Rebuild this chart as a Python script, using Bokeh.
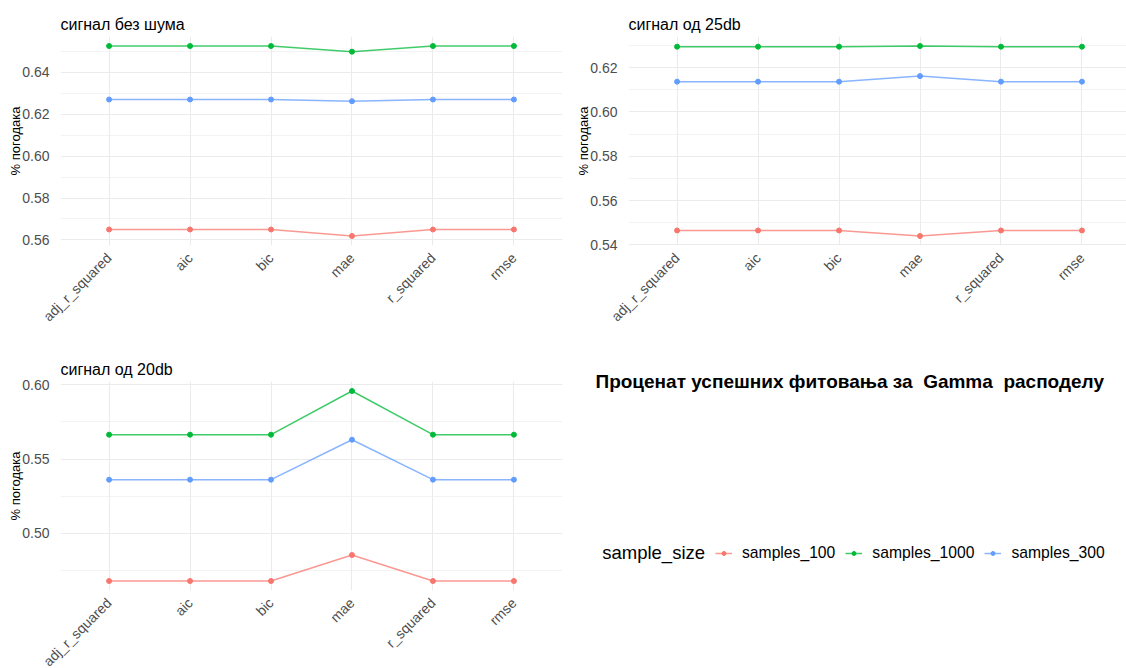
import math
from bokeh.plotting import figure
from bokeh.models import Range1d, FixedTicker, NumeralTickFormatter, Label, Legend, LegendItem
from bokeh.layouts import row, column
from bokeh.embed import file_html
from bokeh.resources import INLINE

# ---------------- data ----------------
categories = ["adj_r_squared", "aic", "bic", "mae", "r_squared", "rmse"]
series_names = ["samples_100", "samples_1000", "samples_300"]
colors = ["#F8766D", "#00BA38", "#619CFF"]

titles = ["сигнал без шума", "сигнал од 25db", "сигнал од 20db"]

clean_100 = [0.5650, 0.5650, 0.5650, 0.5619, 0.5650, 0.5650]
clean_1000 = [0.6524, 0.6524, 0.6524, 0.6497, 0.6524, 0.6524]
clean_300 = [0.6269, 0.6269, 0.6269, 0.6261, 0.6269, 0.6269]

db25_100 = [0.5465, 0.5465, 0.5465, 0.5440, 0.5465, 0.5465]
db25_1000 = [0.6295, 0.6295, 0.6295, 0.6298, 0.6295, 0.6295]
db25_300 = [0.6137, 0.6137, 0.6137, 0.6162, 0.6137, 0.6137]

db20_100 = [0.4679, 0.4679, 0.4679, 0.4854, 0.4679, 0.4679]
db20_1000 = [0.5664, 0.5664, 0.5664, 0.5958, 0.5664, 0.5664]
db20_300 = [0.5361, 0.5361, 0.5361, 0.5630, 0.5361, 0.5361]

ticks_clean = [0.56, 0.58, 0.60, 0.62, 0.64]
minor_clean = [0.57, 0.59, 0.61, 0.63, 0.65]
ticks_25 = [0.54, 0.56, 0.58, 0.60, 0.62]
minor_25 = [0.55, 0.57, 0.59, 0.61, 0.63]
ticks_20 = [0.50, 0.55, 0.60]
minor_20 = [0.475, 0.525, 0.575]

y_title = "% погодака"
# the original has double spaces around "Gamma" (non-breaking so SVG keeps them)
main_title = "Проценат успешних фитовања за \u00a0Gamma \u00a0расподелу"
legend_title = "sample_size"

FONT = "Liberation Sans"
GRID = "#EBEBEB"


def make_panel(title, series, major, minor, width, height, mbl, mbr, mbt, mbb, x_end):
    allv = [v for s in series for v in s]
    lo, hi = min(allv), max(allv)
    pad = 0.05 * (hi - lo)
    xs = list(range(1, len(categories) + 1))
    p = figure(width=width, height=height, output_backend="svg", toolbar_location=None,
               x_range=Range1d(0.4, x_end), y_range=Range1d(lo - pad, hi + pad),
               min_border_left=mbl, min_border_right=mbr, min_border_top=mbt,
               min_border_bottom=mbb, outline_line_color=None,
               background_fill_color="white", border_fill_color="white")
    p.title.text = title
    p.title.text_font = FONT
    p.title.text_font_size = "16px"
    p.title.text_font_style = "normal"
    p.title.text_color = "black"
    p.title.align = "left"
    p.title.standoff = 8

    for vals, c in zip(series, colors):
        p.line(xs, vals, line_color=c, line_width=1.5, line_alpha=0.75)
        p.scatter(xs, vals, size=5, fill_color=c, line_color=c)

    p.xaxis.ticker = FixedTicker(ticks=xs)
    p.xaxis.major_label_overrides = {i + 1: c for i, c in enumerate(categories)}
    p.xaxis.major_label_orientation = math.pi / 4
    p.yaxis.ticker = FixedTicker(ticks=major, minor_ticks=minor)
    p.yaxis.formatter = NumeralTickFormatter(format="0.00")
    p.yaxis.axis_label = y_title
    p.yaxis.axis_label_text_font = FONT
    p.yaxis.axis_label_text_font_size = "13px"
    p.yaxis.axis_label_text_font_style = "normal"
    p.yaxis.axis_label_text_color = "black"
    p.yaxis.axis_label_standoff = -4
    for ax in (p.xaxis, p.yaxis):
        ax.axis_line_color = None
        ax.major_tick_line_color = None
        ax.minor_tick_line_color = None
        ax.major_tick_out = 0
        ax.major_label_text_font = FONT
        ax.major_label_text_font_size = "14px"
        ax.major_label_text_color = "#4D4D4D"
    p.xaxis.major_label_standoff = 10
    p.yaxis.major_label_standoff = 7

    p.xgrid.ticker = FixedTicker(ticks=xs)
    p.ygrid.ticker = FixedTicker(ticks=major, minor_ticks=minor)
    p.xgrid.grid_line_color = GRID
    p.ygrid.grid_line_color = GRID
    p.xgrid.grid_line_width = 1.1
    p.ygrid.grid_line_width = 1.1
    p.ygrid.minor_grid_line_color = GRID
    p.ygrid.minor_grid_line_width = 0.6
    return p


p1 = make_panel(titles[0], [clean_100, clean_1000, clean_300], ticks_clean, minor_clean,
                565, 340, 60, 3, 36, 95, 6.6)
p2 = make_panel(titles[1], [db25_100, db25_1000, db25_300], ticks_25, minor_25,
                561, 340, 63, 0, 36, 95, 6.55)
p3 = make_panel(titles[2], [db20_100, db20_1000, db20_300], ticks_20, minor_20,
                565, 345, 60, 3, 41, 95, 6.6)

# legend / title panel; its frame is aligned with the bottom-left panel's frame
p4 = figure(width=561, height=345, output_backend="svg", toolbar_location=None,
            x_range=Range1d(0, 1), y_range=Range1d(0, 1),
            min_border_left=0, min_border_right=0, min_border_top=41, min_border_bottom=95,
            x_axis_type=None, y_axis_type=None, outline_line_color=None,
            background_fill_color="white", border_fill_color="white")
p4.title.text = main_title
p4.title.text_font = FONT
p4.title.text_font_size = "19px"
p4.title.text_font_style = "bold"
p4.title.text_color = "black"
p4.title.align = "left"
p4.title.offset = 30
p4.title.vertical_align = "bottom"
p4.title.standoff = -21

items = []
for name, c in zip(series_names, colors):
    r_line = p4.line(x=[-5, -4], y=[-5, -5], line_color=c, line_width=1.5, line_alpha=0.75)
    r_pt = p4.scatter(x=[-5], y=[-5], size=5, fill_color=c, line_color=c)
    items.append(LegendItem(label=name, renderers=[r_line, r_pt]))
legend = Legend(items=items, orientation="horizontal", location=(150, 27),
                border_line_color=None, background_fill_alpha=0, padding=0, margin=0,
                spacing=10, label_standoff=10, glyph_width=17, glyph_height=10,
                label_height=20, label_text_font=FONT, label_text_font_size="15.7px",
                label_text_color="black")
p4.add_layout(legend)
p4.add_layout(Label(x=36.7, y=38, x_units="screen", y_units="screen", text=legend_title,
                    text_font=FONT, text_font_size="18.5px", text_color="black",
                    text_align="left", text_baseline="alphabetic"))

layout = column(row(p1, p2), row(p3, p4),
                styles={"max-height": "668px", "overflow": "hidden"})

open("out.html", "w").write(file_html(layout, INLINE))
